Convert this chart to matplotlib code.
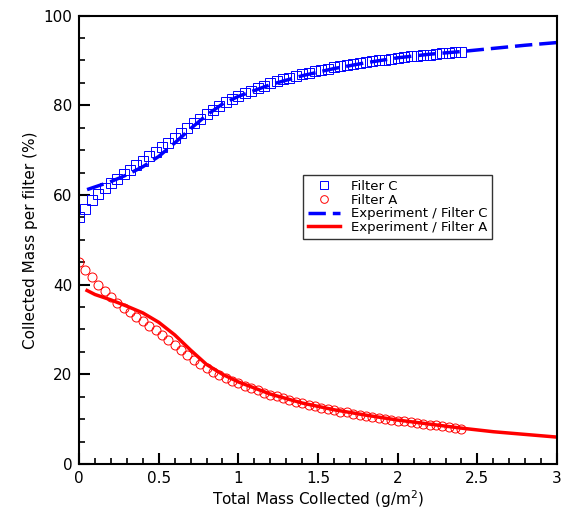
import matplotlib
matplotlib.use("Agg")
import matplotlib.pyplot as plt
from matplotlib.ticker import MultipleLocator

# measured points (step 0.04 g/m2)
mass_pts = [0.00, 0.04, 0.08, 0.12, 0.16, 0.20, 0.24, 0.28, 0.32, 0.36,
            0.40, 0.44, 0.48, 0.52, 0.56, 0.60, 0.64, 0.68, 0.72, 0.76,
            0.80, 0.84, 0.88, 0.92, 0.96, 1.00, 1.04, 1.08, 1.12, 1.16,
            1.20, 1.24, 1.28, 1.32, 1.36, 1.40, 1.44, 1.48, 1.52, 1.56,
            1.60, 1.64, 1.68, 1.72, 1.76, 1.80, 1.84, 1.88, 1.92, 1.96,
            2.00, 2.04, 2.08, 2.12, 2.16, 2.20, 2.24, 2.28, 2.32, 2.36, 2.40]
filter_c = [55.0, 56.8, 58.8, 60.2, 61.5, 62.6, 63.6, 64.6, 65.6, 66.6,
            67.6, 68.6, 69.6, 70.6, 71.6, 72.7, 73.8, 74.9, 76.0, 77.0,
            78.0, 79.0, 79.9, 80.7, 81.4, 82.1, 82.7, 83.3, 83.9, 84.4,
            84.9, 85.4, 85.8, 86.2, 86.6, 87.0, 87.3, 87.6, 87.9, 88.2,
            88.5, 88.7, 89.0, 89.2, 89.4, 89.6, 89.8, 90.0, 90.2, 90.4,
            90.6, 90.7, 90.9, 91.0, 91.2, 91.3, 91.5, 91.6, 91.7, 91.9, 92.0]
filter_a = [45.0, 43.3, 41.6, 40.0, 38.6, 37.2, 36.0, 34.9, 33.8, 32.8,
            31.8, 30.8, 29.8, 28.8, 27.7, 26.6, 25.5, 24.4, 23.3, 22.3,
            21.4, 20.6, 19.9, 19.2, 18.6, 18.0, 17.4, 16.9, 16.4, 15.9,
            15.5, 15.1, 14.7, 14.3, 13.9, 13.5, 13.2, 12.9, 12.6, 12.3,
            12.0, 11.7, 11.5, 11.2, 11.0, 10.8, 10.5, 10.3, 10.1, 9.9,
            9.7, 9.5, 9.3, 9.2, 9.0, 8.8, 8.6, 8.4, 8.3, 8.1, 7.9]

# experiment curves
mass_exp = [0.05, 0.1, 0.2, 0.3, 0.4, 0.5, 0.6, 0.7, 0.8, 0.9, 1.0,
            1.2, 1.4, 1.6, 1.8, 2.0, 2.2, 2.4, 2.6, 2.8, 3.0]
exp_c = [61.2, 61.8, 63.0, 64.5, 66.3, 68.6, 71.6, 74.8, 77.8, 80.3, 82.0,
         84.6, 86.6, 88.2, 89.5, 90.6, 91.4, 92.0, 92.7, 93.4, 94.0]
exp_a = [38.7, 37.8, 36.6, 35.2, 33.7, 31.6, 28.8, 25.4, 22.2, 20.0, 18.3,
         15.6, 13.6, 12.1, 10.9, 9.8, 8.9, 8.0, 7.2, 6.6, 6.0]

plt.rcParams["font.family"] = ["DejaVu Sans"]

fig = plt.figure(figsize=(5.65, 5.13), dpi=100)
ax = fig.add_axes([0.140, 0.0955, 0.846, 0.874])

ax.plot(mass_pts, filter_c, linestyle="none", marker="s", markersize=6.5,
        markerfacecolor="none", markeredgecolor="blue", markeredgewidth=0.7,
        label="Filter C")
ax.plot(mass_pts, filter_a, linestyle="none", marker="o", markersize=6.5,
        markerfacecolor="none", markeredgecolor="red", markeredgewidth=0.7,
        label="Filter A")
ax.plot(mass_exp, exp_c, color="blue", linewidth=2.5, dashes=(5, 2),
        label="Experiment / Filter C")
ax.plot(mass_exp, exp_a, color="red", linewidth=2.5,
        label="Experiment / Filter A")

ax.set_xlim(0, 3)
ax.set_ylim(0, 100)
ax.xaxis.set_major_locator(MultipleLocator(0.5))
ax.xaxis.set_minor_locator(MultipleLocator(0.1))
ax.yaxis.set_major_locator(MultipleLocator(20))
ax.yaxis.set_minor_locator(MultipleLocator(5))
ax.set_xticks([0, 0.5, 1, 1.5, 2, 2.5, 3])
ax.set_xticklabels(["0", "0.5", "1", "1.5", "2", "2.5", "3"])
ax.tick_params(which="major", direction="in", length=8, width=1.5,
               labelsize=11, pad=5)
ax.tick_params(which="minor", direction="in", length=4, width=1.2)
for s in ax.spines.values():
    s.set_linewidth(1.5)

ax.set_xlabel("Total Mass Collected (g/m$^2$)", fontsize=11, labelpad=2)
ax.set_ylabel("Collected Mass per filter (%)", fontsize=11, labelpad=4)

leg = ax.legend(loc="upper left", bbox_to_anchor=(0.455, 0.66), fontsize=9.5,
                frameon=True, fancybox=False, edgecolor="black",
                handlelength=2.4, borderpad=0.4, labelspacing=0.05,
                markerscale=0.85)
leg.get_frame().set_linewidth(1.0)

fig.savefig("out.png", dpi=100)
